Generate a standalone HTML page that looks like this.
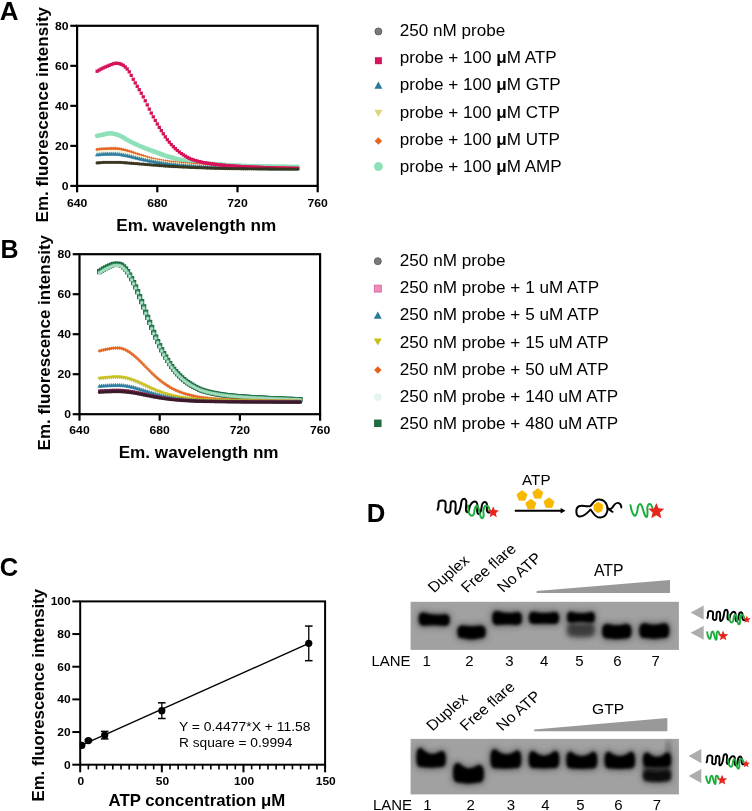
<!DOCTYPE html>
<html><head><meta charset="utf-8"><style>
html,body{margin:0;padding:0;background:#fff;width:752px;height:811px;overflow:hidden}
svg{display:block;will-change:transform}
</style></head><body>
<svg width="752" height="811" viewBox="0 0 752 811" font-family='"Liberation Sans", sans-serif'>
<rect width="752" height="811" fill="#fff"/>
<defs>
<marker id="mSqMag" markerWidth="4" markerHeight="4" refX="2" refY="2" markerUnits="userSpaceOnUse"><rect x="0.35" y="0.35" width="3.3" height="3.3" fill="#d4145a"/></marker>
<marker id="mPrbA" markerWidth="6" markerHeight="6" refX="3" refY="3" markerUnits="userSpaceOnUse"><circle cx="3" cy="3" r="1.65" fill="#3a3820"/></marker>
<marker id="mPrbB" markerWidth="6" markerHeight="6" refX="3" refY="3" markerUnits="userSpaceOnUse"><circle cx="3" cy="3" r="1.65" fill="#3c1a2c"/></marker>
<marker id="mSqPink" markerWidth="6" markerHeight="6" refX="3" refY="3" markerUnits="userSpaceOnUse"><rect x="1.5" y="1.5" width="3" height="3" fill="#6a2448"/></marker>
<marker id="mTriT" markerWidth="6" markerHeight="6" refX="3" refY="3" markerUnits="userSpaceOnUse"><polygon points="3,1.2 4.8,4.4 1.2,4.4" fill="#2a7fa0" stroke="#2a7fa0" stroke-width="0.5"/></marker>
<marker id="mTriY" markerWidth="6" markerHeight="6" refX="3" refY="3" markerUnits="userSpaceOnUse"><polygon points="3,4.8 4.8,1.6 1.2,1.6" fill="#f3f1d6"/></marker>
<marker id="mTriY2" markerWidth="6" markerHeight="6" refX="3" refY="3" markerUnits="userSpaceOnUse"><polygon points="3,4.8 4.8,1.6 1.2,1.6" fill="#c8c020" stroke="#c8c020" stroke-width="0.5"/></marker>
<marker id="mDiaO" markerWidth="6" markerHeight="6" refX="3" refY="3" markerUnits="userSpaceOnUse"><polygon points="3,1.3 4.7,3 3,4.7 1.3,3" fill="#e8641e" stroke="#e8641e" stroke-width="0.4"/></marker>
<marker id="mCiAmp" markerWidth="8" markerHeight="8" refX="4" refY="4" markerUnits="userSpaceOnUse"><circle cx="4" cy="4" r="2.4" fill="#8fe0b8"/></marker>
</defs>
<polyline points="97.15,135.87 99.16,135.47 101.16,135.07 103.16,134.67 105.17,134.19 107.17,133.67 109.18,133.32 111.19,133.31 113.19,133.61 115.19,134.11 117.20,134.67 119.20,135.38 121.21,136.35 123.22,137.48 125.22,138.70 127.22,139.93 129.23,141.06 131.23,142.06 133.24,143.04 135.25,143.99 137.25,144.92 139.25,145.82 141.26,146.68 143.26,147.50 145.27,148.29 147.27,149.05 149.28,149.79 151.28,150.53 153.29,151.26 155.29,151.99 157.30,152.74 159.31,153.49 161.31,154.24 163.31,154.96 165.32,155.66 167.32,156.31 169.33,156.91 171.33,157.47 173.34,158.01 175.34,158.54 177.35,159.05 179.36,159.53 181.36,159.99 183.37,160.42 185.37,160.81 187.38,161.17 189.38,161.48 191.38,161.77 193.39,162.03 195.39,162.27 197.40,162.49 199.41,162.70 201.41,162.90 203.41,163.10 205.42,163.28 207.42,163.46 209.43,163.63 211.43,163.81 213.44,163.98 215.44,164.16 217.45,164.33 219.45,164.50 221.46,164.67 223.46,164.83 225.47,164.98 227.47,165.13 229.48,165.26 231.49,165.39 233.49,165.50 235.49,165.60 237.50,165.69 239.50,165.76 241.51,165.84 243.51,165.90 245.52,165.97 247.53,166.03 249.53,166.09 251.53,166.14 253.54,166.19 255.54,166.24 257.55,166.29 259.55,166.33 261.56,166.37 263.56,166.41 265.57,166.45 267.57,166.49 269.58,166.52 271.59,166.56 273.59,166.59 275.59,166.62 277.60,166.66 279.61,166.69 281.61,166.72 283.62,166.74 285.62,166.77 287.62,166.79 289.63,166.82 291.63,166.84 293.64,166.86 295.64,166.87 297.65,166.89" fill="none" stroke="none" marker-start="url(#mCiAmp)" marker-mid="url(#mCiAmp)" marker-end="url(#mCiAmp)"/>
<polyline points="97.15,149.48 99.16,149.26 101.16,149.07 103.16,148.91 105.17,148.77 107.17,148.68 109.18,148.60 111.19,148.54 113.19,148.49 115.19,148.48 117.20,148.59 119.20,148.88 121.21,149.27 123.22,149.68 125.22,150.13 127.22,150.69 129.23,151.33 131.23,152.02 133.24,152.73 135.25,153.43 137.25,154.09 139.25,154.72 141.26,155.36 143.26,156.01 145.27,156.66 147.27,157.29 149.28,157.89 151.28,158.45 153.29,158.95 155.29,159.39 157.30,159.80 159.31,160.19 161.31,160.56 163.31,160.90 165.32,161.23 167.32,161.53 169.33,161.81 171.33,162.06 173.34,162.31 175.34,162.54 177.35,162.76 179.36,162.97 181.36,163.17 183.37,163.36 185.37,163.54 187.38,163.72 189.38,163.89 191.38,164.05 193.39,164.20 195.39,164.35 197.40,164.49 199.41,164.63 201.41,164.76 203.41,164.89 205.42,165.01 207.42,165.13 209.43,165.25 211.43,165.37 213.44,165.49 215.44,165.61 217.45,165.73 219.45,165.84 221.46,165.96 223.46,166.07 225.47,166.18 227.47,166.28 229.48,166.37 231.49,166.46 233.49,166.55 235.49,166.62 237.50,166.69 239.50,166.75 241.51,166.81 243.51,166.87 245.52,166.93 247.53,166.99 249.53,167.05 251.53,167.10 253.54,167.16 255.54,167.22 257.55,167.27 259.55,167.32 261.56,167.37 263.56,167.42 265.57,167.47 267.57,167.52 269.58,167.56 271.59,167.60 273.59,167.64 275.59,167.68 277.60,167.71 279.61,167.74 281.61,167.77 283.62,167.80 285.62,167.82 287.62,167.84 289.63,167.86 291.63,167.87 293.64,167.88 295.64,167.89 297.65,167.89" fill="none" stroke="none" marker-start="url(#mDiaO)" marker-mid="url(#mDiaO)" marker-end="url(#mDiaO)"/>
<polyline points="97.15,152.28 99.16,152.05 101.16,151.85 103.16,151.67 105.17,151.55 107.17,151.48 109.18,151.44 111.19,151.41 113.19,151.39 115.19,151.38 117.20,151.48 119.20,151.75 121.21,152.11 123.22,152.48 125.22,152.89 127.22,153.38 129.23,153.94 131.23,154.53 133.24,155.14 135.25,155.75 137.25,156.32 139.25,156.86 141.26,157.40 143.26,157.96 145.27,158.50 147.27,159.04 149.28,159.55 151.28,160.03 153.29,160.46 155.29,160.86 157.30,161.24 159.31,161.60 161.31,161.94 163.31,162.26 165.32,162.56 167.32,162.85 169.33,163.11 171.33,163.36 173.34,163.59 175.34,163.81 177.35,164.02 179.36,164.22 181.36,164.41 183.37,164.59 185.37,164.76 187.38,164.93 189.38,165.09 191.38,165.24 193.39,165.38 195.39,165.52 197.40,165.66 199.41,165.79 201.41,165.91 203.41,166.03 205.42,166.15 207.42,166.26 209.43,166.36 211.43,166.46 213.44,166.55 215.44,166.65 217.45,166.74 219.45,166.83 221.46,166.92 223.46,167.01 225.47,167.09 227.47,167.17 229.48,167.24 231.49,167.31 233.49,167.38 235.49,167.44 237.50,167.49 239.50,167.54 241.51,167.59 243.51,167.64 245.52,167.69 247.53,167.73 249.53,167.78 251.53,167.83 253.54,167.87 255.54,167.92 257.55,167.96 259.55,168.01 261.56,168.05 263.56,168.09 265.57,168.13 267.57,168.17 269.58,168.20 271.59,168.24 273.59,168.27 275.59,168.30 277.60,168.33 279.61,168.36 281.61,168.38 283.62,168.40 285.62,168.42 287.62,168.44 289.63,168.46 291.63,168.47 293.64,168.48 295.64,168.49 297.65,168.49" fill="none" stroke="none" marker-start="url(#mTriY)" marker-mid="url(#mTriY)" marker-end="url(#mTriY)"/>
<polyline points="97.15,154.68 99.16,154.44 101.16,154.22 103.16,154.04 105.17,153.92 107.17,153.88 109.18,153.88 111.19,153.88 113.19,153.88 115.19,153.88 117.20,153.98 119.20,154.22 121.21,154.55 123.22,154.88 125.22,155.24 127.22,155.66 129.23,156.14 131.23,156.64 133.24,157.16 135.25,157.67 137.25,158.15 139.25,158.60 141.26,159.05 143.26,159.50 145.27,159.94 147.27,160.38 149.28,160.80 151.28,161.20 153.29,161.58 155.29,161.93 157.30,162.27 159.31,162.60 161.31,162.91 163.31,163.22 165.32,163.50 167.32,163.77 169.33,164.02 171.33,164.25 173.34,164.47 175.34,164.67 177.35,164.87 179.36,165.07 181.36,165.25 183.37,165.42 185.37,165.58 187.38,165.74 189.38,165.89 191.38,166.03 193.39,166.17 195.39,166.30 197.40,166.43 199.41,166.55 201.41,166.67 203.41,166.78 205.42,166.88 207.42,166.98 209.43,167.06 211.43,167.14 213.44,167.22 215.44,167.29 217.45,167.36 219.45,167.43 221.46,167.49 223.46,167.55 225.47,167.61 227.47,167.66 229.48,167.71 231.49,167.76 233.49,167.81 235.49,167.85 237.50,167.89 239.50,167.93 241.51,167.97 243.51,168.00 245.52,168.04 247.53,168.08 249.53,168.11 251.53,168.15 253.54,168.19 255.54,168.22 257.55,168.26 259.55,168.29 261.56,168.32 263.56,168.35 265.57,168.38 267.57,168.41 269.58,168.44 271.59,168.47 273.59,168.50 275.59,168.52 277.60,168.55 279.61,168.57 281.61,168.59 283.62,168.61 285.62,168.62 287.62,168.64 289.63,168.65 291.63,168.67 293.64,168.68 295.64,168.68 297.65,168.69" fill="none" stroke="none" marker-start="url(#mTriT)" marker-mid="url(#mTriT)" marker-end="url(#mTriT)"/>
<polyline points="97.15,71.23 99.16,70.07 101.16,68.99 103.16,67.98 105.17,67.05 107.17,66.23 109.18,65.39 111.19,64.54 113.19,63.81 115.19,63.33 117.20,63.25 119.20,63.61 121.21,64.22 123.22,65.29 125.22,66.97 127.22,69.03 129.23,71.79 131.23,75.39 133.24,79.27 135.25,82.87 137.25,86.29 139.25,89.71 141.26,93.20 143.26,96.84 145.27,100.77 147.27,104.92 149.28,109.09 151.28,113.09 153.29,116.84 155.29,120.48 157.30,123.99 159.31,127.36 161.31,130.60 163.31,133.80 165.32,136.86 167.32,139.69 169.33,142.19 171.33,144.50 173.34,146.67 175.34,148.67 177.35,150.48 179.36,152.08 181.36,153.53 183.37,154.90 185.37,156.17 187.38,157.33 189.38,158.34 191.38,159.19 193.39,159.89 195.39,160.51 197.40,161.09 199.41,161.61 201.41,162.08 203.41,162.51 205.42,162.90 207.42,163.24 209.43,163.54 211.43,163.83 213.44,164.09 215.44,164.34 217.45,164.57 219.45,164.79 221.46,165.00 223.46,165.20 225.47,165.38 227.47,165.55 229.48,165.71 231.49,165.86 233.49,166.01 235.49,166.14 237.50,166.27 239.50,166.39 241.51,166.51 243.51,166.63 245.52,166.74 247.53,166.84 249.53,166.94 251.53,167.04 253.54,167.13 255.54,167.22 257.55,167.31 259.55,167.39 261.56,167.47 263.56,167.55 265.57,167.62 267.57,167.69 269.58,167.76 271.59,167.82 273.59,167.89 275.59,167.95 277.60,168.01 279.61,168.07 281.61,168.13 283.62,168.18 285.62,168.24 287.62,168.29 289.63,168.33 291.63,168.38 293.64,168.42 295.64,168.46 297.65,168.49" fill="none" stroke="none" marker-start="url(#mSqMag)" marker-mid="url(#mSqMag)" marker-end="url(#mSqMag)"/>
<polyline points="97.15,162.89 99.16,162.73 101.16,162.59 103.16,162.47 105.17,162.37 107.17,162.31 109.18,162.29 111.19,162.29 113.19,162.29 115.19,162.29 117.20,162.29 119.20,162.32 121.21,162.43 123.22,162.58 125.22,162.75 127.22,162.93 129.23,163.09 131.23,163.23 133.24,163.39 135.25,163.55 137.25,163.71 139.25,163.88 141.26,164.04 143.26,164.21 145.27,164.38 147.27,164.55 149.28,164.72 151.28,164.88 153.29,165.04 155.29,165.20 157.30,165.36 159.31,165.52 161.31,165.67 163.31,165.83 165.32,165.98 167.32,166.12 169.33,166.25 171.33,166.37 173.34,166.49 175.34,166.60 177.35,166.71 179.36,166.81 181.36,166.91 183.37,167.01 185.37,167.11 187.38,167.20 189.38,167.29 191.38,167.38 193.39,167.46 195.39,167.55 197.40,167.64 199.41,167.72 201.41,167.80 203.41,167.87 205.42,167.94 207.42,168.01 209.43,168.07 211.43,168.13 213.44,168.18 215.44,168.24 217.45,168.29 219.45,168.34 221.46,168.39 223.46,168.44 225.47,168.49 227.47,168.53 229.48,168.57 231.49,168.60 233.49,168.64 235.49,168.67 237.50,168.69 239.50,168.71 241.51,168.73 243.51,168.75 245.52,168.77 247.53,168.79 249.53,168.82 251.53,168.83 253.54,168.85 255.54,168.87 257.55,168.89 259.55,168.91 261.56,168.92 263.56,168.94 265.57,168.96 267.57,168.97 269.58,168.99 271.59,169.00 273.59,169.01 275.59,169.02 277.60,169.03 279.61,169.04 281.61,169.05 283.62,169.06 285.62,169.07 287.62,169.08 289.63,169.08 291.63,169.08 293.64,169.09 295.64,169.09 297.65,169.09" fill="none" stroke="none" marker-start="url(#mPrbA)" marker-mid="url(#mPrbA)" marker-end="url(#mPrbA)"/>
<rect x="77.10" y="25.80" width="240.60" height="160.10" fill="none" stroke="#000" stroke-width="2.2"/>
<line x1="70.30" y1="185.90" x2="77.10" y2="185.90" stroke="#000" stroke-width="2.2" stroke-linecap="butt"/>
<line x1="70.30" y1="145.88" x2="77.10" y2="145.88" stroke="#000" stroke-width="2.2" stroke-linecap="butt"/>
<line x1="70.30" y1="105.85" x2="77.10" y2="105.85" stroke="#000" stroke-width="2.2" stroke-linecap="butt"/>
<line x1="70.30" y1="65.83" x2="77.10" y2="65.83" stroke="#000" stroke-width="2.2" stroke-linecap="butt"/>
<line x1="70.30" y1="25.80" x2="77.10" y2="25.80" stroke="#000" stroke-width="2.2" stroke-linecap="butt"/>
<line x1="77.10" y1="185.90" x2="77.10" y2="192.30" stroke="#000" stroke-width="2.2" stroke-linecap="butt"/>
<line x1="157.30" y1="185.90" x2="157.30" y2="192.30" stroke="#000" stroke-width="2.2" stroke-linecap="butt"/>
<line x1="237.50" y1="185.90" x2="237.50" y2="192.30" stroke="#000" stroke-width="2.2" stroke-linecap="butt"/>
<line x1="317.70" y1="185.90" x2="317.70" y2="192.30" stroke="#000" stroke-width="2.2" stroke-linecap="butt"/>
<text transform="translate(68.60,190.00) scale(1.07,1)" font-size="11.4" font-weight="bold" text-anchor="end" fill="#000">0</text>
<text transform="translate(68.60,149.97) scale(1.07,1)" font-size="11.4" font-weight="bold" text-anchor="end" fill="#000">20</text>
<text transform="translate(68.60,109.95) scale(1.07,1)" font-size="11.4" font-weight="bold" text-anchor="end" fill="#000">40</text>
<text transform="translate(68.60,69.92) scale(1.07,1)" font-size="11.4" font-weight="bold" text-anchor="end" fill="#000">60</text>
<text transform="translate(68.60,29.90) scale(1.07,1)" font-size="11.4" font-weight="bold" text-anchor="end" fill="#000">80</text>
<text transform="translate(77.10,206.60) scale(1.07,1)" font-size="11.4" font-weight="bold" text-anchor="middle" fill="#000">640</text>
<text transform="translate(157.30,206.60) scale(1.07,1)" font-size="11.4" font-weight="bold" text-anchor="middle" fill="#000">680</text>
<text transform="translate(237.50,206.60) scale(1.07,1)" font-size="11.4" font-weight="bold" text-anchor="middle" fill="#000">720</text>
<text transform="translate(317.70,206.60) scale(1.07,1)" font-size="11.4" font-weight="bold" text-anchor="middle" fill="#000">760</text>
<text transform="translate(116.30,230.90) scale(1.085,1)" font-size="15.8" font-weight="bold" fill="#000">Em. wavelength nm</text>
<text transform="translate(48.00,222.40) rotate(-90)" font-size="17.0" font-weight="bold" fill="#000">Em. fluorescence intensity</text>
<text transform="translate(-0.20,19.60) scale(1.04,1)" font-size="25.0" font-weight="bold" fill="#000">A</text>
<defs>
<marker id="mSqG" markerWidth="6" markerHeight="6" refX="3" refY="3" markerUnits="userSpaceOnUse"><rect x="0.9" y="0.9" width="4.2" height="4.2" fill="#2f8a5c" stroke="#17683f" stroke-width="1"/></marker>
<marker id="mCiM" markerWidth="6" markerHeight="6" refX="3" refY="3" markerUnits="userSpaceOnUse"><circle cx="3" cy="3" r="1.7" fill="#b0dfc5" stroke="#7cc4a0" stroke-width="0.4"/></marker>
</defs>
<polyline points="99.55,271.60 101.56,270.27 103.56,269.05 105.56,267.95 107.57,267.00 109.58,266.07 111.58,265.16 113.59,264.47 115.59,264.20 117.59,264.26 119.60,264.40 121.61,265.25 123.61,266.99 125.62,269.04 127.62,271.72 129.62,275.03 131.63,278.71 133.63,282.58 135.64,286.96 137.65,291.72 139.65,296.62 141.66,301.61 143.66,306.85 145.67,312.14 147.67,317.31 149.68,322.40 151.68,327.48 153.69,332.42 155.69,337.10 157.69,341.52 159.70,345.77 161.70,349.81 163.71,353.58 165.72,357.07 167.72,360.43 169.73,363.62 171.73,366.60 173.74,369.30 175.74,371.69 177.75,373.89 179.75,375.96 181.75,377.88 183.76,379.64 185.77,381.24 187.77,382.67 189.78,383.96 191.78,385.20 193.79,386.38 195.79,387.48 197.80,388.49 199.80,389.41 201.81,390.21 203.81,390.90 205.81,391.48 207.82,392.00 209.83,392.49 211.83,392.95 213.84,393.37 215.84,393.77 217.84,394.13 219.85,394.47 221.86,394.78 223.86,395.06 225.87,395.32 227.87,395.56 229.88,395.77 231.88,395.98 233.89,396.18 235.89,396.36 237.90,396.54 239.90,396.70 241.91,396.86 243.91,397.01 245.92,397.16 247.92,397.29 249.93,397.42 251.93,397.55 253.94,397.67 255.94,397.78 257.95,397.89 259.95,398.00 261.96,398.11 263.96,398.21 265.97,398.31 267.97,398.41 269.98,398.51 271.98,398.61 273.99,398.70 275.99,398.79 278.00,398.88 280.00,398.97 282.00,399.05 284.01,399.13 286.01,399.20 288.02,399.27 290.03,399.34 292.03,399.40 294.03,399.46 296.04,399.51 298.05,399.56 300.05,399.60" fill="none" stroke="none" marker-start="url(#mSqG)" marker-mid="url(#mSqG)" marker-end="url(#mSqG)"/>
<polyline points="99.55,272.80 101.56,271.47 103.56,270.25 105.56,269.15 107.57,268.20 109.58,267.27 111.58,266.36 113.59,265.67 115.59,265.40 117.59,265.46 119.60,265.60 121.61,266.45 123.61,268.19 125.62,270.24 127.62,272.92 129.62,276.23 131.63,279.91 133.63,283.78 135.64,288.16 137.65,292.92 139.65,297.82 141.66,302.81 143.66,308.05 145.67,313.34 147.67,318.51 149.68,323.60 151.68,328.68 153.69,333.62 155.69,338.30 157.69,342.72 159.70,346.97 161.70,351.01 163.71,354.78 165.72,358.27 167.72,361.60 169.73,364.70 171.73,367.59 173.74,370.21 175.74,372.52 177.75,374.66 179.75,376.67 181.75,378.53 183.76,380.24 185.77,381.79 187.77,383.18 189.78,384.43 191.78,385.64 193.79,386.78 195.79,387.84 197.80,388.82 199.80,389.71 201.81,390.50 203.81,391.16 205.81,391.72 207.82,392.23 209.83,392.70 211.83,393.15 213.84,393.56 215.84,393.94 217.84,394.29 219.85,394.62 221.86,394.92 223.86,395.20 225.87,395.45 227.87,395.68 229.88,395.89 231.88,396.09 233.89,396.28 235.89,396.46 237.90,396.63 239.90,396.79 241.91,396.94 243.91,397.09 245.92,397.23 247.92,397.36 249.93,397.49 251.93,397.61 253.94,397.72 255.94,397.84 257.95,397.94 259.95,398.05 261.96,398.15 263.96,398.25 265.97,398.35 267.97,398.45 269.98,398.54 271.98,398.64 273.99,398.73 275.99,398.82 278.00,398.90 280.00,398.98 282.00,399.06 284.01,399.14 286.01,399.21 288.02,399.28 290.03,399.35 292.03,399.41 294.03,399.46 296.04,399.51 298.05,399.56 300.05,399.60" fill="none" stroke="none" marker-start="url(#mCiM)" marker-mid="url(#mCiM)" marker-end="url(#mCiM)"/>
<polyline points="99.55,350.90 101.56,350.38 103.56,349.90 105.56,349.47 107.57,349.09 109.58,348.73 111.58,348.37 113.59,348.10 115.59,347.99 117.59,348.01 119.60,348.07 121.61,348.40 123.61,349.09 125.62,349.89 127.62,350.95 129.62,352.25 131.63,353.69 133.63,355.21 135.64,356.94 137.65,358.81 139.65,360.73 141.66,362.70 143.66,364.75 145.67,366.83 147.67,368.86 149.68,370.86 151.68,372.86 153.69,374.80 155.69,376.64 157.69,378.38 159.70,380.05 161.70,381.63 163.71,383.12 165.72,384.49 167.72,385.81 169.73,387.06 171.73,388.23 173.74,389.29 175.74,390.23 177.75,391.10 179.75,391.91 181.75,392.66 183.76,393.36 185.77,393.99 187.77,394.55 189.78,395.06 191.78,395.54 193.79,396.00 195.79,396.44 197.80,396.83 199.80,397.19 201.81,397.51 203.81,397.78 205.81,398.01 207.82,398.21 209.83,398.41 211.83,398.59 213.84,398.75 215.84,398.91 217.84,399.05 219.85,399.18 221.86,399.30 223.86,399.42 225.87,399.52 227.87,399.61 229.88,399.70 231.88,399.78 233.89,399.85 235.89,399.93 237.90,400.00 239.90,400.06 241.91,400.12 243.91,400.18 245.92,400.24 247.92,400.29 249.93,400.34 251.93,400.39 253.94,400.44 255.94,400.49 257.95,400.53 259.95,400.57 261.96,400.61 263.96,400.65 265.97,400.69 267.97,400.73 269.98,400.77 271.98,400.81 273.99,400.85 275.99,400.88 278.00,400.92 280.00,400.95 282.00,400.98 284.01,401.01 286.01,401.04 288.02,401.07 290.03,401.10 292.03,401.12 294.03,401.14 296.04,401.16 298.05,401.18 300.05,401.20" fill="none" stroke="none" marker-start="url(#mDiaO)" marker-mid="url(#mDiaO)" marker-end="url(#mDiaO)"/>
<polyline points="99.55,378.51 101.56,378.28 103.56,378.05 105.56,377.86 107.57,377.69 109.58,377.52 111.58,377.35 113.59,377.23 115.59,377.18 117.59,377.19 119.60,377.22 121.61,377.37 123.61,377.68 125.62,378.05 127.62,378.54 129.62,379.13 131.63,379.80 133.63,380.49 135.64,381.29 137.65,382.14 139.65,383.03 141.66,383.93 143.66,384.87 145.67,385.83 147.67,386.76 149.68,387.68 151.68,388.59 153.69,389.48 155.69,390.33 157.69,391.12 159.70,391.89 161.70,392.62 163.71,393.30 165.72,393.93 167.72,394.54 169.73,395.11 171.73,395.65 173.74,396.14 175.74,396.57 177.75,396.96 179.75,397.34 181.75,397.68 183.76,398.00 185.77,398.29 187.77,398.55 189.78,398.78 191.78,399.00 193.79,399.22 195.79,399.41 197.80,399.60 199.80,399.76 201.81,399.91 203.81,400.03 205.81,400.13 207.82,400.23 209.83,400.32 211.83,400.40 213.84,400.48 215.84,400.55 217.84,400.61 219.85,400.67 221.86,400.73 223.86,400.78 225.87,400.83 227.87,400.87 229.88,400.91 231.88,400.95 233.89,400.98 235.89,401.02 237.90,401.05 239.90,401.08 241.91,401.11 243.91,401.13 245.92,401.16 247.92,401.18 249.93,401.21 251.93,401.23 253.94,401.25 255.94,401.27 257.95,401.29 259.95,401.31 261.96,401.33 263.96,401.35 265.97,401.37 267.97,401.39 269.98,401.40 271.98,401.42 273.99,401.44 275.99,401.45 278.00,401.47 280.00,401.49 282.00,401.50 284.01,401.51 286.01,401.53 288.02,401.54 290.03,401.55 292.03,401.56 294.03,401.57 296.04,401.58 298.05,401.59 300.05,401.60" fill="none" stroke="none" marker-start="url(#mTriY2)" marker-mid="url(#mTriY2)" marker-end="url(#mTriY2)"/>
<polyline points="99.55,386.03 101.56,385.87 103.56,385.72 105.56,385.59 107.57,385.47 109.58,385.35 111.58,385.24 113.59,385.16 115.59,385.12 117.59,385.13 119.60,385.15 121.61,385.25 123.61,385.47 125.62,385.72 127.62,386.05 129.62,386.46 131.63,386.91 133.63,387.39 135.64,387.93 137.65,388.51 139.65,389.12 141.66,389.73 143.66,390.38 145.67,391.03 147.67,391.66 149.68,392.29 151.68,392.92 153.69,393.53 155.69,394.10 157.69,394.65 159.70,395.17 161.70,395.67 163.71,396.13 165.72,396.56 167.72,396.98 169.73,397.37 171.73,397.74 173.74,398.07 175.74,398.36 177.75,398.63 179.75,398.89 181.75,399.12 183.76,399.34 185.77,399.54 187.77,399.71 189.78,399.87 191.78,400.03 193.79,400.17 195.79,400.31 197.80,400.43 199.80,400.54 201.81,400.64 203.81,400.73 205.81,400.80 207.82,400.86 209.83,400.92 211.83,400.98 213.84,401.03 215.84,401.08 217.84,401.13 219.85,401.17 221.86,401.21 223.86,401.24 225.87,401.27 227.87,401.30 229.88,401.33 231.88,401.35 233.89,401.38 235.89,401.40 237.90,401.42 239.90,401.44 241.91,401.46 243.91,401.48 245.92,401.50 247.92,401.52 249.93,401.53 251.93,401.55 253.94,401.56 255.94,401.58 257.95,401.59 259.95,401.60 261.96,401.62 263.96,401.63 265.97,401.64 267.97,401.65 269.98,401.67 271.98,401.68 273.99,401.69 275.99,401.70 278.00,401.71 280.00,401.72 282.00,401.73 284.01,401.74 286.01,401.75 288.02,401.76 290.03,401.77 292.03,401.78 294.03,401.78 296.04,401.79 298.05,401.79 300.05,401.80" fill="none" stroke="none" marker-start="url(#mTriT)" marker-mid="url(#mTriT)" marker-end="url(#mTriT)"/>
<polyline points="99.55,390.92 101.56,390.81 103.56,390.70 105.56,390.61 107.57,390.53 109.58,390.45 111.58,390.37 113.59,390.31 115.59,390.29 117.59,390.29 119.60,390.30 121.61,390.38 123.61,390.53 125.62,390.70 127.62,390.93 129.62,391.21 131.63,391.53 133.63,391.86 135.64,392.24 137.65,392.65 139.65,393.07 141.66,393.50 143.66,393.94 145.67,394.40 147.67,394.84 149.68,395.28 151.68,395.71 153.69,396.14 155.69,396.54 157.69,396.92 159.70,397.28 161.70,397.63 163.71,397.95 165.72,398.25 167.72,398.54 169.73,398.81 171.73,399.07 173.74,399.30 175.74,399.51 177.75,399.69 179.75,399.87 181.75,400.04 183.76,400.19 185.77,400.33 187.77,400.45 189.78,400.56 191.78,400.67 193.79,400.77 195.79,400.86 197.80,400.95 199.80,401.03 201.81,401.09 203.81,401.15 205.81,401.20 207.82,401.25 209.83,401.29 211.83,401.33 213.84,401.37 215.84,401.40 217.84,401.43 219.85,401.46 221.86,401.49 223.86,401.51 225.87,401.53 227.87,401.55 229.88,401.57 231.88,401.59 233.89,401.61 235.89,401.62 237.90,401.64 239.90,401.65 241.91,401.67 243.91,401.68 245.92,401.69 247.92,401.70 249.93,401.71 251.93,401.72 253.94,401.73 255.94,401.74 257.95,401.75 259.95,401.76 261.96,401.77 263.96,401.78 265.97,401.79 267.97,401.80 269.98,401.81 271.98,401.81 273.99,401.82 275.99,401.83 278.00,401.84 280.00,401.85 282.00,401.85 284.01,401.86 286.01,401.87 288.02,401.87 290.03,401.88 292.03,401.88 294.03,401.89 296.04,401.89 298.05,401.90 300.05,401.90" fill="none" stroke="none" marker-start="url(#mSqPink)" marker-mid="url(#mSqPink)" marker-end="url(#mSqPink)"/>
<polyline points="99.55,392.25 101.56,392.15 103.56,392.05 105.56,391.97 107.57,391.90 109.58,391.82 111.58,391.75 113.59,391.70 115.59,391.68 117.59,391.68 119.60,391.69 121.61,391.76 123.61,391.89 125.62,392.05 127.62,392.26 129.62,392.52 131.63,392.81 133.63,393.11 135.64,393.45 137.65,393.82 139.65,394.20 141.66,394.59 143.66,394.99 145.67,395.40 147.67,395.80 149.68,396.20 151.68,396.60 153.69,396.98 155.69,397.34 157.69,397.69 159.70,398.02 161.70,398.33 163.71,398.62 165.72,398.89 167.72,399.16 169.73,399.40 171.73,399.64 173.74,399.85 175.74,400.03 177.75,400.20 179.75,400.36 181.75,400.51 183.76,400.65 185.77,400.77 187.77,400.88 189.78,400.98 191.78,401.08 193.79,401.17 195.79,401.26 197.80,401.34 199.80,401.41 201.81,401.47 203.81,401.52 205.81,401.57 207.82,401.61 209.83,401.65 211.83,401.68 213.84,401.72 215.84,401.75 217.84,401.77 219.85,401.80 221.86,401.83 223.86,401.85 225.87,401.87 227.87,401.89 229.88,401.90 231.88,401.92 233.89,401.93 235.89,401.95 237.90,401.96 239.90,401.97 241.91,401.99 243.91,402.00 245.92,402.01 247.92,402.02 249.93,402.03 251.93,402.04 253.94,402.05 255.94,402.06 257.95,402.07 259.95,402.08 261.96,402.08 263.96,402.09 265.97,402.10 267.97,402.11 269.98,402.12 271.98,402.12 273.99,402.13 275.99,402.14 278.00,402.14 280.00,402.15 282.00,402.16 284.01,402.16 286.01,402.17 288.02,402.17 290.03,402.18 292.03,402.18 294.03,402.19 296.04,402.19 298.05,402.20 300.05,402.20" fill="none" stroke="none" marker-start="url(#mPrbB)" marker-mid="url(#mPrbB)" marker-end="url(#mPrbB)"/>
<rect x="79.50" y="254.20" width="240.60" height="160.00" fill="none" stroke="#000" stroke-width="2.2"/>
<line x1="72.70" y1="414.20" x2="79.50" y2="414.20" stroke="#000" stroke-width="2.2" stroke-linecap="butt"/>
<line x1="72.70" y1="374.20" x2="79.50" y2="374.20" stroke="#000" stroke-width="2.2" stroke-linecap="butt"/>
<line x1="72.70" y1="334.20" x2="79.50" y2="334.20" stroke="#000" stroke-width="2.2" stroke-linecap="butt"/>
<line x1="72.70" y1="294.20" x2="79.50" y2="294.20" stroke="#000" stroke-width="2.2" stroke-linecap="butt"/>
<line x1="72.70" y1="254.20" x2="79.50" y2="254.20" stroke="#000" stroke-width="2.2" stroke-linecap="butt"/>
<line x1="79.50" y1="414.20" x2="79.50" y2="420.70" stroke="#000" stroke-width="2.2" stroke-linecap="butt"/>
<line x1="159.70" y1="414.20" x2="159.70" y2="420.70" stroke="#000" stroke-width="2.2" stroke-linecap="butt"/>
<line x1="239.90" y1="414.20" x2="239.90" y2="420.70" stroke="#000" stroke-width="2.2" stroke-linecap="butt"/>
<line x1="320.10" y1="414.20" x2="320.10" y2="420.70" stroke="#000" stroke-width="2.2" stroke-linecap="butt"/>
<text transform="translate(71.00,418.30) scale(1.07,1)" font-size="11.4" font-weight="bold" text-anchor="end" fill="#000">0</text>
<text transform="translate(71.00,378.30) scale(1.07,1)" font-size="11.4" font-weight="bold" text-anchor="end" fill="#000">20</text>
<text transform="translate(71.00,338.30) scale(1.07,1)" font-size="11.4" font-weight="bold" text-anchor="end" fill="#000">40</text>
<text transform="translate(71.00,298.30) scale(1.07,1)" font-size="11.4" font-weight="bold" text-anchor="end" fill="#000">60</text>
<text transform="translate(71.00,258.30) scale(1.07,1)" font-size="11.4" font-weight="bold" text-anchor="end" fill="#000">80</text>
<text transform="translate(79.50,434.40) scale(1.07,1)" font-size="11.4" font-weight="bold" text-anchor="middle" fill="#000">640</text>
<text transform="translate(159.70,434.40) scale(1.07,1)" font-size="11.4" font-weight="bold" text-anchor="middle" fill="#000">680</text>
<text transform="translate(239.90,434.40) scale(1.07,1)" font-size="11.4" font-weight="bold" text-anchor="middle" fill="#000">720</text>
<text transform="translate(320.10,434.40) scale(1.07,1)" font-size="11.4" font-weight="bold" text-anchor="middle" fill="#000">760</text>
<text transform="translate(118.70,458.30) scale(1.085,1)" font-size="15.8" font-weight="bold" fill="#000">Em. wavelength nm</text>
<text transform="translate(50.40,450.40) rotate(-90)" font-size="17.0" font-weight="bold" fill="#000">Em. fluorescence intensity</text>
<text transform="translate(0.40,257.60)" font-size="25.0" font-weight="bold" fill="#000">B</text>
<defs><clipPath id="clipC"><rect x="79.7" y="601.4" width="244.90000000000003" height="163.30000000000007"/></clipPath></defs>
<rect x="80.2" y="601.4" width="244.90" height="163.30" fill="none" stroke="#000" stroke-width="2"/>
<line x1="72.30" y1="764.70" x2="80.20" y2="764.70" stroke="#000" stroke-width="2" stroke-linecap="butt"/>
<text transform="translate(70.60,768.70) scale(1.07,1)" font-size="11.2" font-weight="bold" text-anchor="end" fill="#000">0</text>
<line x1="72.30" y1="732.04" x2="80.20" y2="732.04" stroke="#000" stroke-width="2" stroke-linecap="butt"/>
<text transform="translate(70.60,736.04) scale(1.07,1)" font-size="11.2" font-weight="bold" text-anchor="end" fill="#000">20</text>
<line x1="72.30" y1="699.38" x2="80.20" y2="699.38" stroke="#000" stroke-width="2" stroke-linecap="butt"/>
<text transform="translate(70.60,703.38) scale(1.07,1)" font-size="11.2" font-weight="bold" text-anchor="end" fill="#000">40</text>
<line x1="72.30" y1="666.72" x2="80.20" y2="666.72" stroke="#000" stroke-width="2" stroke-linecap="butt"/>
<text transform="translate(70.60,670.72) scale(1.07,1)" font-size="11.2" font-weight="bold" text-anchor="end" fill="#000">60</text>
<line x1="72.30" y1="634.06" x2="80.20" y2="634.06" stroke="#000" stroke-width="2" stroke-linecap="butt"/>
<text transform="translate(70.60,638.06) scale(1.07,1)" font-size="11.2" font-weight="bold" text-anchor="end" fill="#000">80</text>
<line x1="72.30" y1="601.40" x2="80.20" y2="601.40" stroke="#000" stroke-width="2" stroke-linecap="butt"/>
<text transform="translate(70.60,605.40) scale(1.07,1)" font-size="11.2" font-weight="bold" text-anchor="end" fill="#000">100</text>
<line x1="80.20" y1="764.70" x2="80.20" y2="772.30" stroke="#000" stroke-width="2" stroke-linecap="butt"/>
<line x1="88.36" y1="764.70" x2="88.36" y2="769.40" stroke="#000" stroke-width="1.6" stroke-linecap="butt"/>
<line x1="96.53" y1="764.70" x2="96.53" y2="769.40" stroke="#000" stroke-width="1.6" stroke-linecap="butt"/>
<line x1="104.69" y1="764.70" x2="104.69" y2="769.40" stroke="#000" stroke-width="1.6" stroke-linecap="butt"/>
<line x1="112.85" y1="764.70" x2="112.85" y2="769.40" stroke="#000" stroke-width="1.6" stroke-linecap="butt"/>
<line x1="121.02" y1="764.70" x2="121.02" y2="769.40" stroke="#000" stroke-width="1.6" stroke-linecap="butt"/>
<line x1="129.18" y1="764.70" x2="129.18" y2="769.40" stroke="#000" stroke-width="1.6" stroke-linecap="butt"/>
<line x1="137.34" y1="764.70" x2="137.34" y2="769.40" stroke="#000" stroke-width="1.6" stroke-linecap="butt"/>
<line x1="145.51" y1="764.70" x2="145.51" y2="769.40" stroke="#000" stroke-width="1.6" stroke-linecap="butt"/>
<line x1="153.67" y1="764.70" x2="153.67" y2="769.40" stroke="#000" stroke-width="1.6" stroke-linecap="butt"/>
<line x1="161.83" y1="764.70" x2="161.83" y2="772.30" stroke="#000" stroke-width="2" stroke-linecap="butt"/>
<line x1="170.00" y1="764.70" x2="170.00" y2="769.40" stroke="#000" stroke-width="1.6" stroke-linecap="butt"/>
<line x1="178.16" y1="764.70" x2="178.16" y2="769.40" stroke="#000" stroke-width="1.6" stroke-linecap="butt"/>
<line x1="186.32" y1="764.70" x2="186.32" y2="769.40" stroke="#000" stroke-width="1.6" stroke-linecap="butt"/>
<line x1="194.49" y1="764.70" x2="194.49" y2="769.40" stroke="#000" stroke-width="1.6" stroke-linecap="butt"/>
<line x1="202.65" y1="764.70" x2="202.65" y2="769.40" stroke="#000" stroke-width="1.6" stroke-linecap="butt"/>
<line x1="210.81" y1="764.70" x2="210.81" y2="769.40" stroke="#000" stroke-width="1.6" stroke-linecap="butt"/>
<line x1="218.98" y1="764.70" x2="218.98" y2="769.40" stroke="#000" stroke-width="1.6" stroke-linecap="butt"/>
<line x1="227.14" y1="764.70" x2="227.14" y2="769.40" stroke="#000" stroke-width="1.6" stroke-linecap="butt"/>
<line x1="235.30" y1="764.70" x2="235.30" y2="769.40" stroke="#000" stroke-width="1.6" stroke-linecap="butt"/>
<line x1="243.47" y1="764.70" x2="243.47" y2="772.30" stroke="#000" stroke-width="2" stroke-linecap="butt"/>
<line x1="251.63" y1="764.70" x2="251.63" y2="769.40" stroke="#000" stroke-width="1.6" stroke-linecap="butt"/>
<line x1="259.79" y1="764.70" x2="259.79" y2="769.40" stroke="#000" stroke-width="1.6" stroke-linecap="butt"/>
<line x1="267.96" y1="764.70" x2="267.96" y2="769.40" stroke="#000" stroke-width="1.6" stroke-linecap="butt"/>
<line x1="276.12" y1="764.70" x2="276.12" y2="769.40" stroke="#000" stroke-width="1.6" stroke-linecap="butt"/>
<line x1="284.28" y1="764.70" x2="284.28" y2="769.40" stroke="#000" stroke-width="1.6" stroke-linecap="butt"/>
<line x1="292.45" y1="764.70" x2="292.45" y2="769.40" stroke="#000" stroke-width="1.6" stroke-linecap="butt"/>
<line x1="300.61" y1="764.70" x2="300.61" y2="769.40" stroke="#000" stroke-width="1.6" stroke-linecap="butt"/>
<line x1="308.77" y1="764.70" x2="308.77" y2="769.40" stroke="#000" stroke-width="1.6" stroke-linecap="butt"/>
<line x1="316.94" y1="764.70" x2="316.94" y2="769.40" stroke="#000" stroke-width="1.6" stroke-linecap="butt"/>
<line x1="325.10" y1="764.70" x2="325.10" y2="772.30" stroke="#000" stroke-width="2" stroke-linecap="butt"/>
<text transform="translate(80.80,785.30) scale(1.07,1)" font-size="11.2" font-weight="bold" text-anchor="middle" fill="#000">0</text>
<text transform="translate(162.43,785.30) scale(1.07,1)" font-size="11.2" font-weight="bold" text-anchor="middle" fill="#000">50</text>
<text transform="translate(244.07,785.30) scale(1.07,1)" font-size="11.2" font-weight="bold" text-anchor="middle" fill="#000">100</text>
<text transform="translate(325.70,785.30) scale(1.07,1)" font-size="11.2" font-weight="bold" text-anchor="middle" fill="#000">150</text>
<line x1="81.18" y1="745.35" x2="308.77" y2="643.44" stroke="#000" stroke-width="1.4" stroke-linecap="butt"/>
<circle cx="81.83" cy="745.43" r="3.6" fill="#000" clip-path="url(#clipC)"/>
<line x1="88.36" y1="739.55" x2="88.36" y2="741.51" stroke="#000" stroke-width="1.3" stroke-linecap="butt"/>
<line x1="84.56" y1="739.55" x2="92.16" y2="739.55" stroke="#000" stroke-width="1.5" stroke-linecap="butt"/>
<line x1="84.56" y1="741.51" x2="92.16" y2="741.51" stroke="#000" stroke-width="1.5" stroke-linecap="butt"/>
<circle cx="88.36" cy="740.53" r="3.6" fill="#000"/>
<line x1="104.69" y1="731.39" x2="104.69" y2="738.90" stroke="#000" stroke-width="1.3" stroke-linecap="butt"/>
<line x1="100.89" y1="731.39" x2="108.49" y2="731.39" stroke="#000" stroke-width="1.5" stroke-linecap="butt"/>
<line x1="100.89" y1="738.90" x2="108.49" y2="738.90" stroke="#000" stroke-width="1.5" stroke-linecap="butt"/>
<circle cx="104.69" cy="735.14" r="3.6" fill="#000"/>
<line x1="161.83" y1="702.81" x2="161.83" y2="718.49" stroke="#000" stroke-width="1.3" stroke-linecap="butt"/>
<line x1="158.03" y1="702.81" x2="165.63" y2="702.81" stroke="#000" stroke-width="1.5" stroke-linecap="butt"/>
<line x1="158.03" y1="718.49" x2="165.63" y2="718.49" stroke="#000" stroke-width="1.5" stroke-linecap="butt"/>
<circle cx="161.83" cy="710.65" r="3.6" fill="#000"/>
<line x1="308.77" y1="626.06" x2="308.77" y2="660.68" stroke="#000" stroke-width="1.3" stroke-linecap="butt"/>
<line x1="304.97" y1="626.06" x2="312.57" y2="626.06" stroke="#000" stroke-width="1.5" stroke-linecap="butt"/>
<line x1="304.97" y1="660.68" x2="312.57" y2="660.68" stroke="#000" stroke-width="1.5" stroke-linecap="butt"/>
<circle cx="308.77" cy="643.37" r="3.6" fill="#000"/>
<text transform="translate(178.90,731.40) scale(1.045,1)" font-size="13.3" fill="#000">Y = 0.4477*X + 11.58</text>
<text transform="translate(178.90,746.50) scale(1.035,1)" font-size="13.3" fill="#000">R square = 0.9994</text>
<text transform="translate(108.50,805.80) scale(1.007,1)" font-size="16.7" font-weight="bold" fill="#000">ATP concentration μM</text>
<text transform="translate(43.50,801.50) rotate(-90)" font-size="16.8" font-weight="bold" fill="#000">Em. fluorescence intensity</text>
<text transform="translate(-0.20,576.40) scale(1.02,1)" font-size="25.0" font-weight="bold" fill="#000">C</text>
<circle cx="378.40" cy="31.40" r="3.50" fill="#7a7a7a" stroke="#555" stroke-width="0.8"/>
<text transform="translate(399.80,35.80) scale(1.068,1)" font-size="16" fill="#000">250 nM probe</text>
<rect x="374.90" y="57.20" width="7" height="7" fill="#d6145f"/>
<text transform="translate(399.80,63.06) scale(1.068,1)" font-size="16" fill="#000">probe + 100 <tspan font-weight="bold">μ</tspan>M ATP</text>
<polygon points="378.40,81.50 382.40,88.70 374.40,88.70" fill="#287a9a"/>
<text transform="translate(399.80,90.32) scale(1.068,1)" font-size="16" fill="#000">probe + 100 <tspan font-weight="bold">μ</tspan>M GTP</text>
<polygon points="378.40,117.00 382.40,109.80 374.40,109.80" fill="#dcd67a"/>
<text transform="translate(399.80,117.58) scale(1.068,1)" font-size="16" fill="#000">probe + 100 <tspan font-weight="bold">μ</tspan>M CTP</text>
<polygon points="378.40,137.25 382.15,141.00 378.40,144.75 374.65,141.00" fill="#e8641e"/>
<text transform="translate(399.80,144.84) scale(1.068,1)" font-size="16" fill="#000">probe + 100 <tspan font-weight="bold">μ</tspan>M UTP</text>
<circle cx="378.40" cy="166.60" r="4.50" fill="#8fe0b8"/>
<text transform="translate(399.80,172.10) scale(1.068,1)" font-size="16" fill="#000">probe + 100 <tspan font-weight="bold">μ</tspan>M AMP</text>
<circle cx="377.80" cy="261.20" r="3.50" fill="#7a7a7a" stroke="#555" stroke-width="0.8"/>
<text transform="translate(399.80,266.00) scale(1.072,1)" font-size="16" fill="#000">250 nM probe</text>
<rect x="374.30" y="285.10" width="7" height="7" fill="#ec8cba" stroke="#d8609a" stroke-width="0.8"/>
<text transform="translate(399.80,293.20) scale(1.072,1)" font-size="16" fill="#000">250 nM probe + 1 uM ATP</text>
<polygon points="377.80,311.60 381.80,318.80 373.80,318.80" fill="#287a9a"/>
<text transform="translate(399.80,320.40) scale(1.072,1)" font-size="16" fill="#000">250 nM probe + 5 uM ATP</text>
<polygon points="377.80,345.60 381.80,338.40 373.80,338.40" fill="#c8c018"/>
<text transform="translate(399.80,347.60) scale(1.072,1)" font-size="16" fill="#000">250 nM probe + 15 uM ATP</text>
<polygon points="377.80,366.15 381.55,369.90 377.80,373.65 374.05,369.90" fill="#e8601a"/>
<text transform="translate(399.80,374.80) scale(1.072,1)" font-size="16" fill="#000">250 nM probe + 50 uM ATP</text>
<circle cx="377.80" cy="397.10" r="3.75" fill="#e2f5ed"/>
<text transform="translate(399.80,402.00) scale(1.072,1)" font-size="16" fill="#000">250 nM probe + 140 uM ATP</text>
<rect x="374.05" y="419.55" width="7.5" height="7.5" fill="#1e6e44"/>
<text transform="translate(399.80,429.20) scale(1.072,1)" font-size="16" fill="#000">250 nM probe + 480 uM ATP</text>
<text transform="translate(366.80,521.80) scale(1.03,1)" font-size="25.0" font-weight="bold" fill="#000">D</text>
<path d="M437.60,509.80 C437.73,509.33 438.23,508.13 438.40,507.00 C438.57,505.87 438.40,504.00 438.60,503.00 C438.80,502.00 438.87,501.40 439.60,501.00 C440.33,500.60 442.05,500.47 443.00,500.60 C443.95,500.73 444.87,501.07 445.30,501.80 C445.73,502.53 445.60,503.60 445.60,505.00 C445.60,506.40 445.17,509.03 445.30,510.20 C445.43,511.37 445.78,511.67 446.40,512.00 C447.02,512.33 448.35,512.43 449.00,512.20 C449.65,511.97 450.03,511.80 450.30,510.60 C450.57,509.40 450.47,506.43 450.60,505.00 C450.73,503.57 450.73,502.62 451.10,502.00 C451.47,501.38 452.15,501.33 452.80,501.30 C453.45,501.27 454.52,501.18 455.00,501.80 C455.48,502.42 455.63,503.47 455.70,505.00 C455.77,506.53 455.35,509.57 455.40,511.00 C455.45,512.43 455.67,513.17 456.00,513.60 C456.33,514.03 456.85,514.03 457.40,513.60 C457.95,513.17 458.73,512.27 459.30,511.00 C459.87,509.73 460.43,507.60 460.80,506.00 C461.17,504.40 461.13,502.53 461.50,501.40 C461.87,500.27 462.38,499.57 463.00,499.20 C463.62,498.83 464.65,498.82 465.20,499.20 C465.75,499.58 466.15,500.37 466.30,501.50 C466.45,502.63 466.15,504.50 466.10,506.00 C466.05,507.50 465.78,509.47 466.00,510.50 C466.22,511.53 466.93,512.20 467.40,512.20 C467.87,512.20 468.35,511.60 468.80,510.50 C469.25,509.40 469.35,507.03 470.10,505.60 C470.85,504.17 472.22,502.43 473.30,501.90 C474.38,501.37 475.90,501.72 476.60,502.40 C477.30,503.08 477.40,504.48 477.50,506.00 C477.60,507.52 476.95,510.17 477.20,511.50 C477.45,512.83 478.38,514.08 479.00,514.00 C479.62,513.92 480.43,512.33 480.90,511.00 C481.37,509.67 481.45,507.33 481.80,506.00 C482.15,504.67 482.30,503.60 483.00,503.00 C483.70,502.40 485.30,501.97 486.00,502.40 C486.70,502.83 487.07,504.33 487.20,505.60 C487.33,506.87 486.63,508.87 486.80,510.00 C486.97,511.13 487.67,512.00 488.20,512.40 C488.73,512.80 489.70,512.40 490.00,512.40" fill="none" stroke="#000" stroke-width="2.0" stroke-linecap="round" stroke-linejoin="round"/>
<path d="M468.00,505.60 C468.07,506.25 468.20,508.18 468.40,509.50 C468.60,510.82 468.65,512.47 469.20,513.50 C469.75,514.53 470.93,515.60 471.70,515.70 C472.47,515.80 473.28,515.30 473.80,514.10 C474.32,512.90 474.35,509.92 474.80,508.50 C475.25,507.08 475.95,505.87 476.50,505.60 C477.05,505.33 477.62,505.83 478.10,506.90 C478.58,507.97 478.98,510.40 479.40,512.00 C479.82,513.60 480.10,515.45 480.60,516.50 C481.10,517.55 481.90,518.42 482.40,518.30 C482.90,518.18 483.42,517.18 483.60,515.80 C483.78,514.42 483.18,511.70 483.50,510.00 C483.82,508.30 484.67,506.10 485.50,505.60 C486.33,505.10 487.78,506.20 488.50,507.00 C489.22,507.80 489.58,509.83 489.80,510.40" fill="none" stroke="#1cae3c" stroke-width="2.0" stroke-linecap="round" stroke-linejoin="round"/>
<polygon points="493.20,506.30 494.79,510.12 498.91,510.45 495.77,513.13 496.73,517.15 493.20,515.00 489.67,517.15 490.63,513.13 487.49,510.45 491.61,510.12" fill="#e8261e"/>
<text transform="translate(522.10,485.00)" font-size="15.2" fill="#000">ATP</text>
<polygon points="522.00,490.70 526.95,494.29 525.06,500.11 518.94,500.11 517.05,494.29" fill="#f8b800" stroke="#f8b800" stroke-width="1" stroke-linejoin="round"/>
<polygon points="537.80,488.70 542.75,492.29 540.86,498.11 534.74,498.11 532.85,492.29" fill="#f8b800" stroke="#f8b800" stroke-width="1" stroke-linejoin="round"/>
<polygon points="530.90,499.30 535.85,502.89 533.96,508.71 527.84,508.71 525.95,502.89" fill="#f8b800" stroke="#f8b800" stroke-width="1" stroke-linejoin="round"/>
<polygon points="549.00,497.90 553.95,501.49 552.06,507.31 545.94,507.31 544.05,501.49" fill="#f8b800" stroke="#f8b800" stroke-width="1" stroke-linejoin="round"/>
<line x1="514.80" y1="510.70" x2="561.50" y2="510.70" stroke="#000" stroke-width="1.9" stroke-linecap="butt"/>
<polygon points="565.6,510.7 560.6,507.9 560.6,513.5" fill="#000"/>
<path d="M590.6,509.6 C588.5,511.5 584,517.5 579,516.5 C575.5,515.8 575.5,507.5 579,506.2 C582.5,505 587.5,507.2 590.5,505.8 C592.5,504.5 593.5,499.8 599,499.6 C603.5,499.4 606.3,503.2 607.3,506.5 C608.3,510.5 606.5,517.2 600.5,517.6 C595,518 593,512.3 590.6,509.6 Z" fill="none" stroke="#000" stroke-width="2.0" stroke-linejoin="round"/>
<path d="M607.2,507.8 C609,509.5 611,511 612.5,511.8 M609.5,509.8 C611,509 612.8,507.5 614,505.2 C615,503.5 617.3,502.4 619.3,503.3 C620.8,504 621.3,506 621.3,507.6" fill="none" stroke="#000" stroke-width="1.9" stroke-linecap="round"/>
<path d="M598.2,502.6 L602.4,505.4 L601.6,510.6 L597.6,512.3 L594.2,509.6 L594.4,505 Z" fill="#f8b800" stroke="#f8b800" stroke-width="1.4" stroke-linejoin="round"/>
<path d="M630.50,505.20 C630.68,506.08 631.05,508.87 631.60,510.50 C632.15,512.13 633.10,514.20 633.80,515.00 C634.50,515.80 635.23,515.87 635.80,515.30 C636.37,514.73 636.83,513.05 637.20,511.60 C637.57,510.15 637.58,507.85 638.00,506.60 C638.42,505.35 639.10,504.28 639.70,504.10 C640.30,503.92 641.00,504.43 641.60,505.50 C642.20,506.57 642.68,508.73 643.30,510.50 C643.92,512.27 644.68,515.07 645.30,516.10 C645.92,517.13 646.63,517.25 647.00,516.70 C647.37,516.15 647.43,514.38 647.50,512.80 C647.57,511.22 647.17,508.65 647.40,507.20 C647.63,505.75 648.28,504.48 648.90,504.10 C649.52,503.72 650.53,504.30 651.10,504.90 C651.67,505.50 652.10,507.23 652.30,507.70" fill="none" stroke="#1cae3c" stroke-width="2.0" stroke-linecap="round" stroke-linejoin="round"/>
<polygon points="656.30,502.90 658.55,508.31 664.38,508.77 659.94,512.58 661.30,518.28 656.30,515.23 651.30,518.28 652.66,512.58 648.22,508.77 654.05,508.31" fill="#e8261e"/>
<defs>
<filter id="bl" x="-30%" y="-60%" width="160%" height="220%"><feGaussianBlur stdDeviation="1.45"/></filter>
<filter id="bl2" x="-30%" y="-60%" width="160%" height="220%"><feGaussianBlur stdDeviation="2.2"/></filter>
<filter id="bl3" x="-40%" y="-80%" width="180%" height="260%"><feGaussianBlur stdDeviation="3.2"/></filter>
</defs>
<rect x="410.6" y="601.8" width="268.3" height="48.1" fill="#a1a1a1"/>
<path d="M417.20,619.10 C417.20,611.50 419.60,610.50 423.20,610.50 Q434.20,613.60 445.20,612.30 C448.80,612.30 451.20,613.30 451.20,620.10 C451.20,626.90 448.80,627.90 445.20,627.90 Q434.20,626.80 423.20,627.70 C419.60,627.70 417.20,626.70 417.20,619.10 Z" fill="#000" opacity="0.34" filter="url(#bl3)"/>
<path d="M418.70,619.10 C418.70,613.50 420.70,612.50 423.70,612.50 Q434.20,615.60 444.70,614.30 C447.70,614.30 449.70,615.30 449.70,620.10 C449.70,624.90 447.70,625.90 444.70,625.90 Q434.20,624.80 423.70,625.70 C420.70,625.70 418.70,624.70 418.70,619.10 Z" fill="#000" filter="url(#bl)"/>
<path d="M455.90,631.90 C455.90,624.50 458.70,623.50 462.90,623.50 Q471.55,625.10 480.20,623.50 C484.40,623.50 487.20,624.50 487.20,631.90 C487.20,639.30 484.40,640.30 480.20,640.30 Q471.55,642.90 462.90,640.30 C458.70,640.30 455.90,639.30 455.90,631.90 Z" fill="#000" opacity="0.34" filter="url(#bl3)"/>
<path d="M457.40,631.90 C457.40,626.50 459.80,625.50 463.40,625.50 Q471.55,627.10 479.70,625.50 C483.30,625.50 485.70,626.50 485.70,631.90 C485.70,637.30 483.30,638.30 479.70,638.30 Q471.55,640.90 463.40,638.30 C459.80,638.30 457.40,637.30 457.40,631.90 Z" fill="#000" filter="url(#bl)"/>
<path d="M490.80,617.90 C490.80,609.90 493.20,608.90 496.80,608.90 Q507.10,612.30 517.40,610.10 C521.00,610.10 523.40,611.10 523.40,618.50 C523.40,625.90 521.00,626.90 517.40,626.90 Q507.10,626.10 496.80,626.90 C493.20,626.90 490.80,625.90 490.80,617.90 Z" fill="#000" opacity="0.34" filter="url(#bl3)"/>
<path d="M492.30,617.90 C492.30,611.90 494.30,610.90 497.30,610.90 Q507.10,614.30 516.90,612.10 C519.90,612.10 521.90,613.10 521.90,618.50 C521.90,623.90 519.90,624.90 516.90,624.90 Q507.10,624.10 497.30,624.90 C494.30,624.90 492.30,623.90 492.30,617.90 Z" fill="#000" filter="url(#bl)"/>
<path d="M527.40,617.80 C527.40,610.70 529.80,609.70 533.40,609.70 Q544.00,612.30 554.60,610.10 C558.20,610.10 560.60,611.10 560.60,618.00 C560.60,624.90 558.20,625.90 554.60,625.90 Q544.00,625.50 533.40,625.90 C529.80,625.90 527.40,624.90 527.40,617.80 Z" fill="#000" opacity="0.34" filter="url(#bl3)"/>
<path d="M528.90,617.80 C528.90,612.70 530.90,611.70 533.90,611.70 Q544.00,614.30 554.10,612.10 C557.10,612.10 559.10,613.10 559.10,618.00 C559.10,622.90 557.10,623.90 554.10,623.90 Q544.00,623.50 533.90,623.90 C530.90,623.90 528.90,622.90 528.90,617.80 Z" fill="#000" filter="url(#bl)"/>
<path d="M565.80,630.00 C565.80,622.80 568.60,621.80 572.80,621.80 Q581.00,622.80 589.20,621.80 C593.40,621.80 596.20,622.80 596.20,630.00 C596.20,637.20 593.40,638.20 589.20,638.20 Q581.00,639.20 572.80,638.20 C568.60,638.20 565.80,637.20 565.80,630.00 Z" fill="#000" opacity="0.2" filter="url(#bl3)"/>
<path d="M567.30,630.00 C567.30,624.80 569.70,623.80 573.30,623.80 Q581.00,624.80 588.70,623.80 C592.30,623.80 594.70,624.80 594.70,630.00 C594.70,635.20 592.30,636.20 588.70,636.20 Q581.00,637.20 573.30,636.20 C569.70,636.20 567.30,635.20 567.30,630.00 Z" fill="#3c3c3c" filter="url(#bl2)"/>
<path d="M565.60,617.20 C565.60,610.70 567.60,609.70 570.60,609.70 Q581.00,612.70 591.40,610.10 C594.40,610.10 596.40,611.10 596.40,617.40 C596.40,623.70 594.40,624.70 591.40,624.70 Q581.00,623.50 570.60,624.70 C567.60,624.70 565.60,623.70 565.60,617.20 Z" fill="#000" opacity="0.34" filter="url(#bl3)"/>
<path d="M567.10,617.20 C567.10,612.70 568.70,611.70 571.10,611.70 Q581.00,614.70 590.90,612.10 C593.30,612.10 594.90,613.10 594.90,617.40 C594.90,621.70 593.30,622.70 590.90,622.70 Q581.00,621.50 571.10,622.70 C568.70,622.70 567.10,621.70 567.10,617.20 Z" fill="#000" filter="url(#bl)"/>
<path d="M600.60,631.30 C600.60,623.10 603.40,622.10 607.60,622.10 Q616.80,624.50 626.00,622.10 C630.20,622.10 633.00,623.10 633.00,631.30 C633.00,639.50 630.20,640.50 626.00,640.50 Q616.80,642.10 607.60,640.50 C603.40,640.50 600.60,639.50 600.60,631.30 Z" fill="#000" opacity="0.34" filter="url(#bl3)"/>
<path d="M602.10,631.30 C602.10,625.10 604.50,624.10 608.10,624.10 Q616.80,626.50 625.50,624.10 C629.10,624.10 631.50,625.10 631.50,631.30 C631.50,637.50 629.10,638.50 625.50,638.50 Q616.80,640.10 608.10,638.50 C604.50,638.50 602.10,637.50 602.10,631.30 Z" fill="#000" filter="url(#bl)"/>
<path d="M637.80,630.70 C637.80,622.30 640.60,621.30 644.80,621.30 Q654.30,624.10 663.80,621.30 C668.00,621.30 670.80,622.30 670.80,630.70 C670.80,639.10 668.00,640.10 663.80,640.10 Q654.30,641.70 644.80,640.10 C640.60,640.10 637.80,639.10 637.80,630.70 Z" fill="#000" opacity="0.34" filter="url(#bl3)"/>
<path d="M639.30,630.70 C639.30,624.30 641.70,623.30 645.30,623.30 Q654.30,626.10 663.30,623.30 C666.90,623.30 669.30,624.30 669.30,630.70 C669.30,637.10 666.90,638.10 663.30,638.10 Q654.30,639.70 645.30,638.10 C641.70,638.10 639.30,637.10 639.30,630.70 Z" fill="#000" filter="url(#bl)"/>
<rect x="410.6" y="738.9" width="268.3" height="55.5" fill="#a1a1a1"/>
<path d="M414.90,757.50 C414.90,746.90 417.30,745.90 420.90,745.90 Q431.10,756.30 441.30,749.10 C444.90,749.10 447.30,750.10 447.30,759.10 C447.30,768.10 444.90,769.10 441.30,769.10 Q431.10,770.30 420.90,769.10 C417.30,769.10 414.90,768.10 414.90,757.50 Z" fill="#000" opacity="0.34" filter="url(#bl3)"/>
<path d="M416.40,757.50 C416.40,748.90 418.40,747.90 421.40,747.90 Q431.10,758.30 440.80,751.10 C443.80,751.10 445.80,752.10 445.80,759.10 C445.80,766.10 443.80,767.10 440.80,767.10 Q431.10,768.30 421.40,767.10 C418.40,767.10 416.40,766.10 416.40,757.50 Z" fill="#000" filter="url(#bl)"/>
<path d="M451.60,772.75 C451.60,761.90 454.40,760.90 458.60,760.90 Q468.50,770.60 478.40,763.10 C482.60,763.10 485.40,764.10 485.40,773.85 C485.40,783.60 482.60,784.60 478.40,784.60 Q468.50,786.80 458.60,784.60 C454.40,784.60 451.60,783.60 451.60,772.75 Z" fill="#000" opacity="0.34" filter="url(#bl3)"/>
<path d="M453.10,772.75 C453.10,763.90 455.50,762.90 459.10,762.90 Q468.50,772.60 477.90,765.10 C481.50,765.10 483.90,766.10 483.90,773.85 C483.90,781.60 481.50,782.60 477.90,782.60 Q468.50,784.80 459.10,782.60 C455.50,782.60 453.10,781.60 453.10,772.75 Z" fill="#000" filter="url(#bl)"/>
<path d="M489.00,758.80 C489.00,748.30 491.40,747.30 495.00,747.30 Q505.90,756.70 516.80,748.50 C520.40,748.50 522.80,749.50 522.80,759.30 C522.80,769.10 520.40,770.10 516.80,770.10 Q505.90,771.20 495.00,770.30 C491.40,770.30 489.00,769.30 489.00,758.80 Z" fill="#000" opacity="0.34" filter="url(#bl3)"/>
<path d="M490.50,758.80 C490.50,750.30 492.50,749.30 495.50,749.30 Q505.90,758.70 516.30,750.50 C519.30,750.50 521.30,751.50 521.30,759.30 C521.30,767.10 519.30,768.10 516.30,768.10 Q505.90,769.20 495.50,768.30 C492.50,768.30 490.50,767.30 490.50,758.80 Z" fill="#000" filter="url(#bl)"/>
<path d="M527.20,759.60 C527.20,750.10 529.60,749.10 533.20,749.10 Q544.00,758.30 554.80,749.10 C558.40,749.10 560.80,750.10 560.80,759.60 C560.80,769.10 558.40,770.10 554.80,770.10 Q544.00,770.90 533.20,770.10 C529.60,770.10 527.20,769.10 527.20,759.60 Z" fill="#000" opacity="0.34" filter="url(#bl3)"/>
<path d="M528.70,759.60 C528.70,752.10 530.70,751.10 533.70,751.10 Q544.00,760.30 554.30,751.10 C557.30,751.10 559.30,752.10 559.30,759.60 C559.30,767.10 557.30,768.10 554.30,768.10 Q544.00,768.90 533.70,768.10 C530.70,768.10 528.70,767.10 528.70,759.60 Z" fill="#000" filter="url(#bl)"/>
<path d="M564.80,760.10 C564.80,750.70 567.20,749.70 570.80,749.70 Q581.80,758.50 592.80,749.70 C596.40,749.70 598.80,750.70 598.80,760.10 C598.80,769.50 596.40,770.50 592.80,770.50 Q581.80,771.30 570.80,770.50 C567.20,770.50 564.80,769.50 564.80,760.10 Z" fill="#000" opacity="0.34" filter="url(#bl3)"/>
<path d="M566.30,760.10 C566.30,752.70 568.30,751.70 571.30,751.70 Q581.80,760.50 592.30,751.70 C595.30,751.70 597.30,752.70 597.30,760.10 C597.30,767.50 595.30,768.50 592.30,768.50 Q581.80,769.30 571.30,768.50 C568.30,768.50 566.30,767.50 566.30,760.10 Z" fill="#000" filter="url(#bl)"/>
<path d="M603.00,760.10 C603.00,750.70 605.40,749.70 609.00,749.70 Q619.80,758.50 630.60,749.70 C634.20,749.70 636.60,750.70 636.60,760.10 C636.60,769.50 634.20,770.50 630.60,770.50 Q619.80,771.30 609.00,770.50 C605.40,770.50 603.00,769.50 603.00,760.10 Z" fill="#000" opacity="0.34" filter="url(#bl3)"/>
<path d="M604.50,760.10 C604.50,752.70 606.50,751.70 609.50,751.70 Q619.80,760.50 630.10,751.70 C633.10,751.70 635.10,752.70 635.10,760.10 C635.10,767.50 633.10,768.50 630.10,768.50 Q619.80,769.30 609.50,768.50 C606.50,768.50 604.50,767.50 604.50,760.10 Z" fill="#000" filter="url(#bl)"/>
<path d="M643.10,769.00 C643.10,765.30 644.70,764.30 647.10,764.30 Q657.10,766.30 667.10,764.30 C669.50,764.30 671.10,765.30 671.10,769.00 C671.10,772.70 669.50,773.70 667.10,773.70 Q657.10,773.70 647.10,773.70 C644.70,773.70 643.10,772.70 643.10,769.00 Z" fill="#555" filter="url(#bl2)"/>
<path d="M641.40,759.80 C641.40,751.50 643.80,750.50 647.40,750.50 Q657.10,758.90 666.80,750.50 C670.40,750.50 672.80,751.50 672.80,759.80 C672.80,768.10 670.40,769.10 666.80,769.10 Q657.10,769.90 647.40,769.10 C643.80,769.10 641.40,768.10 641.40,759.80 Z" fill="#000" opacity="0.34" filter="url(#bl3)"/>
<path d="M642.90,759.80 C642.90,753.50 644.90,752.50 647.90,752.50 Q657.10,760.90 666.30,752.50 C669.30,752.50 671.30,753.50 671.30,759.80 C671.30,766.10 669.30,767.10 666.30,767.10 Q657.10,767.90 647.90,767.10 C644.90,767.10 642.90,766.10 642.90,759.80 Z" fill="#000" filter="url(#bl)"/>
<path d="M641.60,775.80 C641.60,769.30 644.00,768.30 647.60,768.30 Q657.10,769.50 666.60,768.30 C670.20,768.30 672.60,769.30 672.60,775.80 C672.60,782.30 670.20,783.30 666.60,783.30 Q657.10,784.90 647.60,783.30 C644.00,783.30 641.60,782.30 641.60,775.80 Z" fill="#000" opacity="0.34" filter="url(#bl3)"/>
<path d="M643.10,775.80 C643.10,771.30 645.10,770.30 648.10,770.30 Q657.10,771.50 666.10,770.30 C669.10,770.30 671.10,771.30 671.10,775.80 C671.10,780.30 669.10,781.30 666.10,781.30 Q657.10,782.90 648.10,781.30 C645.10,781.30 643.10,780.30 643.10,775.80 Z" fill="#080808" filter="url(#bl)"/>
<path d="M666,741 L670.5,741 L671,754 L666,754 Z" fill="#000" opacity="0.25" filter="url(#bl2)"/>
<polygon points="536.6,591.0 670.0,579.9 670.0,592.9 536.6,592.9" fill="#999999"/>
<polygon points="534.2,729.4 667.4,718.1 667.4,731.3 534.2,731.3" fill="#999999"/>
<text transform="translate(593.90,575.90)" font-size="15.8" fill="#000">ATP</text>
<text transform="translate(592.00,714.40) scale(1.02,1)" font-size="15.3" fill="#000">GTP</text>
<text transform="translate(434.00,593.20) scale(1.08,1) rotate(-43)" font-size="14.8">Duplex</text>
<text transform="translate(467.20,593.20) scale(1.08,1) rotate(-43)" font-size="14.8">Free flare</text>
<text transform="translate(503.20,593.10) scale(1.08,1) rotate(-43)" font-size="14.8">No ATP</text>
<text transform="translate(432.40,731.40) scale(1.08,1) rotate(-43)" font-size="14.8">Duplex</text>
<text transform="translate(465.90,731.40) scale(1.08,1) rotate(-43)" font-size="14.8">Free flare</text>
<text transform="translate(502.30,731.40) scale(1.08,1) rotate(-43)" font-size="14.8">No ATP</text>
<text transform="translate(371.40,665.70) scale(1.04,1)" font-size="14.4" fill="#000">LANE</text>
<text transform="translate(426.60,665.70) scale(1.04,1)" font-size="14.4" text-anchor="middle" fill="#000">1</text>
<text transform="translate(469.30,665.70) scale(1.04,1)" font-size="14.4" text-anchor="middle" fill="#000">2</text>
<text transform="translate(509.50,665.70) scale(1.04,1)" font-size="14.4" text-anchor="middle" fill="#000">3</text>
<text transform="translate(544.20,665.70) scale(1.04,1)" font-size="14.4" text-anchor="middle" fill="#000">4</text>
<text transform="translate(579.50,665.70) scale(1.04,1)" font-size="14.4" text-anchor="middle" fill="#000">5</text>
<text transform="translate(617.40,665.70) scale(1.04,1)" font-size="14.4" text-anchor="middle" fill="#000">6</text>
<text transform="translate(655.70,665.70) scale(1.04,1)" font-size="14.4" text-anchor="middle" fill="#000">7</text>
<text transform="translate(372.90,810.00) scale(1.04,1)" font-size="14.4" fill="#000">LANE</text>
<text transform="translate(427.30,810.00) scale(1.04,1)" font-size="14.4" text-anchor="middle" fill="#000">1</text>
<text transform="translate(470.60,810.00) scale(1.04,1)" font-size="14.4" text-anchor="middle" fill="#000">2</text>
<text transform="translate(510.80,810.00) scale(1.04,1)" font-size="14.4" text-anchor="middle" fill="#000">3</text>
<text transform="translate(545.50,810.00) scale(1.04,1)" font-size="14.4" text-anchor="middle" fill="#000">4</text>
<text transform="translate(580.40,810.00) scale(1.04,1)" font-size="14.4" text-anchor="middle" fill="#000">5</text>
<text transform="translate(618.30,810.00) scale(1.04,1)" font-size="14.4" text-anchor="middle" fill="#000">6</text>
<text transform="translate(657.00,810.00) scale(1.04,1)" font-size="14.4" text-anchor="middle" fill="#000">7</text>
<polygon points="690.7,612.6 703.7,605.5 703.7,619.7" fill="#adadad"/>
<polygon points="690.7,632.7 703.7,625.7 703.7,639.7" fill="#adadad"/>
<path d="M707.36,618.03 C707.45,617.68 707.81,616.78 707.93,615.93 C708.04,615.08 707.93,613.68 708.07,612.93 C708.21,612.18 708.26,611.73 708.78,611.43 C709.30,611.12 710.52,611.02 711.19,611.12 C711.87,611.23 712.52,611.48 712.83,612.03 C713.13,612.58 713.04,613.38 713.04,614.43 C713.04,615.48 712.73,617.45 712.83,618.33 C712.92,619.20 713.17,619.43 713.61,619.68 C714.04,619.93 714.99,620.00 715.45,619.83 C715.91,619.65 716.19,619.52 716.38,618.62 C716.56,617.73 716.49,615.50 716.59,614.43 C716.68,613.35 716.68,612.64 716.94,612.18 C717.20,611.71 717.69,611.68 718.15,611.65 C718.61,611.63 719.37,611.56 719.71,612.03 C720.06,612.49 720.16,613.28 720.21,614.43 C720.26,615.58 719.96,617.85 720.00,618.93 C720.03,620.00 720.19,620.55 720.42,620.88 C720.66,621.20 721.03,621.20 721.42,620.88 C721.81,620.55 722.36,619.88 722.76,618.93 C723.17,617.98 723.57,616.38 723.83,615.18 C724.09,613.98 724.07,612.58 724.33,611.73 C724.59,610.88 724.95,610.35 725.39,610.08 C725.83,609.80 726.56,609.79 726.95,610.08 C727.34,610.36 727.63,610.95 727.74,611.80 C727.84,612.65 727.63,614.05 727.59,615.18 C727.56,616.30 727.37,617.78 727.52,618.55 C727.68,619.33 728.18,619.83 728.52,619.83 C728.85,619.83 729.19,619.38 729.51,618.55 C729.83,617.73 729.90,615.95 730.43,614.88 C730.97,613.80 731.94,612.50 732.71,612.10 C733.47,611.70 734.55,611.96 735.05,612.48 C735.54,612.99 735.62,614.04 735.69,615.18 C735.76,616.31 735.30,618.30 735.47,619.30 C735.65,620.30 736.31,621.24 736.75,621.18 C737.19,621.11 737.77,619.93 738.10,618.93 C738.43,617.93 738.49,616.18 738.74,615.18 C738.99,614.18 739.10,613.38 739.59,612.93 C740.09,612.48 741.23,612.15 741.72,612.48 C742.22,612.80 742.48,613.92 742.57,614.88 C742.67,615.83 742.17,617.33 742.29,618.18 C742.41,619.03 742.91,619.68 743.28,619.98 C743.66,620.27 744.35,619.98 744.56,619.98" fill="none" stroke="#000" stroke-width="1.9" stroke-linecap="round" stroke-linejoin="round"/>
<path d="M728.94,614.88 C728.99,615.36 729.08,616.81 729.23,617.80 C729.37,618.79 729.40,620.03 729.79,620.80 C730.18,621.58 731.02,622.38 731.57,622.45 C732.11,622.53 732.69,622.15 733.06,621.25 C733.43,620.35 733.45,618.11 733.77,617.05 C734.09,615.99 734.59,615.08 734.98,614.88 C735.37,614.67 735.77,615.05 736.11,615.85 C736.46,616.65 736.74,618.48 737.04,619.68 C737.33,620.88 737.53,622.26 737.89,623.05 C738.24,623.84 738.81,624.49 739.17,624.40 C739.52,624.31 739.89,623.56 740.02,622.52 C740.15,621.49 739.72,619.45 739.95,618.18 C740.17,616.90 740.78,615.25 741.37,614.88 C741.96,614.50 742.99,615.33 743.50,615.93 C744.01,616.53 744.27,618.05 744.42,618.48" fill="none" stroke="#1cae3c" stroke-width="1.9" stroke-linecap="round" stroke-linejoin="round"/>
<polygon points="746.83,615.60 747.89,618.14 750.64,618.36 748.55,620.16 749.19,622.84 746.83,621.40 744.48,622.84 745.12,620.16 743.03,618.36 745.78,618.14" fill="#e8261e"/>
<path d="M707.20,632.28 C707.30,632.84 707.51,634.59 707.82,635.62 C708.12,636.65 708.66,637.95 709.05,638.46 C709.44,638.96 709.85,639.00 710.17,638.64 C710.49,638.29 710.75,637.23 710.95,636.31 C711.16,635.40 711.17,633.95 711.40,633.16 C711.63,632.38 712.02,631.70 712.35,631.59 C712.69,631.47 713.08,631.80 713.42,632.47 C713.75,633.14 714.02,634.51 714.37,635.62 C714.71,636.73 715.14,638.50 715.49,639.15 C715.83,639.80 716.23,639.87 716.44,639.53 C716.65,639.18 716.68,638.07 716.72,637.07 C716.76,636.07 716.53,634.46 716.66,633.54 C716.79,632.63 717.16,631.83 717.50,631.59 C717.85,631.35 718.42,631.71 718.74,632.09 C719.05,632.47 719.30,633.56 719.41,633.86" fill="none" stroke="#1cae3c" stroke-width="1.9" stroke-linecap="round" stroke-linejoin="round"/>
<polygon points="723.10,630.50 724.53,633.93 728.24,634.23 725.41,636.65 726.27,640.27 723.10,638.33 719.93,640.27 720.79,636.65 717.96,634.23 721.67,633.93" fill="#e8261e"/>
<polygon points="688.6,756.1 701.3,749.0 701.3,763.2" fill="#adadad"/>
<polygon points="688.6,775.9 701.3,768.9 701.3,782.9" fill="#adadad"/>
<path d="M706.66,762.33 C706.75,761.98 707.11,761.08 707.23,760.23 C707.34,759.38 707.23,757.98 707.37,757.23 C707.51,756.48 707.56,756.03 708.08,755.73 C708.60,755.42 709.82,755.32 710.49,755.42 C711.17,755.52 711.82,755.78 712.12,756.33 C712.43,756.88 712.34,757.68 712.34,758.73 C712.34,759.77 712.03,761.75 712.12,762.62 C712.22,763.50 712.47,763.73 712.91,763.98 C713.34,764.23 714.29,764.30 714.75,764.12 C715.21,763.95 715.49,763.82 715.67,762.92 C715.86,762.02 715.79,759.80 715.89,758.73 C715.98,757.65 715.98,756.94 716.24,756.48 C716.50,756.01 716.99,755.98 717.45,755.95 C717.91,755.93 718.67,755.86 719.01,756.33 C719.36,756.79 719.46,757.58 719.51,758.73 C719.56,759.88 719.26,762.15 719.30,763.23 C719.33,764.30 719.49,764.85 719.72,765.17 C719.96,765.50 720.33,765.50 720.72,765.17 C721.11,764.85 721.66,764.17 722.06,763.23 C722.47,762.28 722.87,760.68 723.13,759.48 C723.39,758.27 723.37,756.88 723.63,756.02 C723.89,755.17 724.25,754.65 724.69,754.38 C725.13,754.10 725.86,754.09 726.25,754.38 C726.64,754.66 726.93,755.25 727.03,756.10 C727.14,756.95 726.93,758.35 726.89,759.48 C726.86,760.60 726.67,762.08 726.82,762.85 C726.98,763.62 727.48,764.12 727.82,764.12 C728.15,764.12 728.49,763.68 728.81,762.85 C729.13,762.02 729.20,760.25 729.73,759.17 C730.27,758.10 731.24,756.80 732.00,756.40 C732.77,756.00 733.85,756.26 734.35,756.77 C734.84,757.29 734.92,758.34 734.99,759.48 C735.06,760.61 734.60,762.60 734.77,763.60 C734.95,764.60 735.61,765.54 736.05,765.48 C736.49,765.41 737.07,764.23 737.40,763.23 C737.73,762.23 737.79,760.48 738.04,759.48 C738.29,758.48 738.39,757.68 738.89,757.23 C739.39,756.77 740.52,756.45 741.02,756.77 C741.52,757.10 741.78,758.22 741.87,759.17 C741.97,760.12 741.47,761.62 741.59,762.48 C741.71,763.33 742.21,763.98 742.58,764.27 C742.96,764.57 743.65,764.27 743.86,764.27" fill="none" stroke="#000" stroke-width="1.9" stroke-linecap="round" stroke-linejoin="round"/>
<path d="M728.24,759.17 C728.29,759.66 728.38,761.11 728.53,762.10 C728.67,763.09 728.70,764.33 729.09,765.10 C729.48,765.88 730.32,766.67 730.87,766.75 C731.41,766.83 731.99,766.45 732.36,765.55 C732.73,764.65 732.75,762.41 733.07,761.35 C733.39,760.29 733.89,759.38 734.28,759.17 C734.67,758.97 735.07,759.35 735.41,760.15 C735.76,760.95 736.04,762.77 736.34,763.98 C736.63,765.18 736.83,766.56 737.19,767.35 C737.54,768.14 738.11,768.79 738.47,768.70 C738.82,768.61 739.19,767.86 739.32,766.82 C739.45,765.79 739.02,763.75 739.25,762.48 C739.47,761.20 740.08,759.55 740.67,759.17 C741.26,758.80 742.29,759.62 742.80,760.23 C743.31,760.83 743.57,762.35 743.72,762.77" fill="none" stroke="#1cae3c" stroke-width="1.9" stroke-linecap="round" stroke-linejoin="round"/>
<polygon points="746.13,759.90 747.19,762.44 749.94,762.66 747.85,764.46 748.49,767.14 746.13,765.70 743.78,767.14 744.42,764.46 742.33,762.66 745.08,762.44" fill="#e8261e"/>
<path d="M706.20,776.48 C706.30,777.04 706.51,778.79 706.82,779.82 C707.12,780.85 707.66,782.15 708.05,782.66 C708.44,783.16 708.85,783.20 709.17,782.85 C709.49,782.49 709.75,781.43 709.95,780.51 C710.16,779.60 710.17,778.15 710.40,777.36 C710.63,776.58 711.02,775.90 711.35,775.79 C711.69,775.67 712.08,776.00 712.42,776.67 C712.75,777.34 713.02,778.71 713.37,779.82 C713.71,780.93 714.14,782.70 714.49,783.35 C714.83,784.00 715.23,784.07 715.44,783.73 C715.65,783.38 715.68,782.27 715.72,781.27 C715.76,780.27 715.53,778.66 715.66,777.74 C715.79,776.83 716.16,776.03 716.50,775.79 C716.85,775.55 717.42,775.91 717.74,776.29 C718.05,776.67 718.30,777.76 718.41,778.06" fill="none" stroke="#1cae3c" stroke-width="1.9" stroke-linecap="round" stroke-linejoin="round"/>
<polygon points="722.10,774.70 723.53,778.13 727.24,778.43 724.41,780.85 725.27,784.47 722.10,782.53 718.93,784.47 719.79,780.85 716.96,778.43 720.67,778.13" fill="#e8261e"/>
</svg>
</body></html>
